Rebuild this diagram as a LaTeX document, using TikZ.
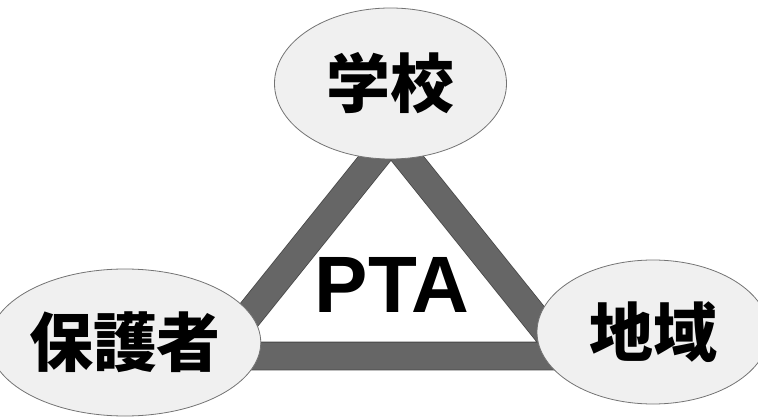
\documentclass[tikz,border=0pt]{standalone}
\usepackage{fontspec}
\setmainfont{Liberation Sans}
\newfontfamily\jpfont{Noto Sans CJK JP}
\usetikzlibrary{shapes.geometric}

\begin{document}
\begin{tikzpicture}[x=1pt,y=-1pt,every path/.style={line join=miter},
  every node/.style={ellipse,draw=black!55,fill=black!6,line width=0.8pt,
    minimum width=232pt,minimum height=147pt,inner sep=0pt,
    font=\jpfont\bfseries\fontsize{64}{64}\selectfont}]
\useasboundingbox (0,0) rectangle (758,417);
\coordinate (t) at (391,138);
\coordinate (l) at (216,356);
\coordinate (r) at (566,356);
\draw[draw=black!72,line width=0.8pt,double=black!60,double distance=27pt]
  (t) -- (l) -- (r) -- cycle;
\node[minimum height=151pt] (gakko)  at (390.5,83.5) { 学校 };
\node                       (hogo)   at (125,342.5)  { 保護者 };
\node[minimum height=144pt] (chiiki) at (653,332)    { 地域 };
\node[draw=none,fill=none,shape=rectangle,
  font=\bfseries\fontsize{80}{80}\selectfont] (pta) at (392,285) { PTA };
\end{tikzpicture}
\end{document}
